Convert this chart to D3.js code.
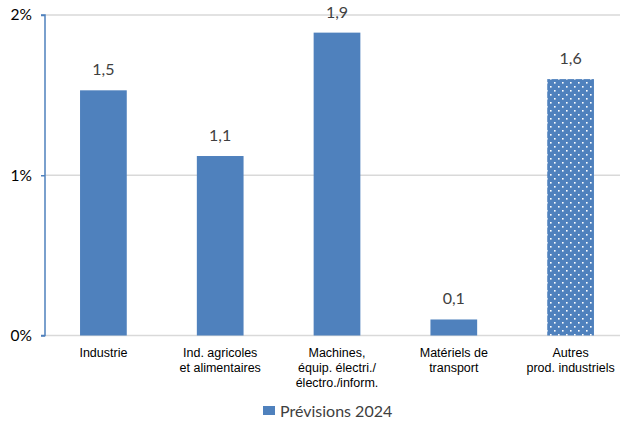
<!DOCTYPE html>
<html><head><meta charset="utf-8">
<script src="https://cdn.jsdelivr.net/npm/d3@7"></script>
<style>body{margin:0;background:#fff}svg{display:block}</style>
</head><body>
<svg id="c" width="620" height="423"></svg>
<script>
const categories = [
  ["Industrie"],
  ["Ind. agricoles", "et alimentaires"],
  ["Machines,", "équip. électri./", "électro./inform."],
  ["Matériels de", "transport"],
  ["Autres", "prod. industriels"]
];
const values = [1.53, 1.12, 1.89, 0.10, 1.60];
const valueLabels = ["1,5", "1,1", "1,9", "0,1", "1,6"];
const patterned = [false, false, false, false, true];
const yTicks = [0, 1, 2];
const yTickLabels = ["0%", "1%", "2%"];
const legendLabel = "Prévisions 2024";

const svg = d3.select("#c");
const blue = "#4f81bd";
const defs = svg.append("defs");
const pat = defs.append("pattern").attr("id","dots").attr("patternUnits","userSpaceOnUse")
  .attr("width",8).attr("height",8);
pat.append("rect").attr("width",8).attr("height",8).attr("fill",blue);
pat.append("rect").attr("x",2).attr("y",2).attr("width",1.6).attr("height",1.6).attr("fill","#fff");
pat.append("rect").attr("x",6).attr("y",6).attr("width",1.6).attr("height",1.6).attr("fill","#fff");

const x = d3.scaleBand().domain(d3.range(values.length)).range([45, 629]).paddingInner(0.6).paddingOuter(0.3);
const y = d3.scaleLinear().domain([0, 2]).range([335.5, 15]);

// gridlines
svg.append("g").selectAll("line").data(yTicks).join("line")
  .attr("x1", 45).attr("x2", 620)
  .attr("y1", d => y(d)).attr("y2", d => y(d))
  .attr("stroke", "#d9d9d9").attr("stroke-width", 1.5);

// bars
svg.append("g").selectAll("rect").data(values).join("rect")
  .attr("x", (d,i) => x(i)).attr("width", x.bandwidth())
  .attr("y", d => y(d)).attr("height", d => y(0) - y(d))
  .attr("fill", (d,i) => patterned[i] ? "url(#dots)" : blue);

// value labels
svg.append("g").selectAll("text").data(values).join("text")
  .attr("x", (d,i) => x(i) + x.bandwidth()/2)
  .attr("y", d => y(d) - 15)
  .attr("text-anchor", "middle")
  .attr("font-family", "Lato, 'Noto Sans', sans-serif").attr("font-size", 16)
  .attr("fill", "#404040")
  .text((d,i) => valueLabels[i]);

// y axis
const yAxis = d3.axisLeft(y).tickValues(yTicks).tickFormat((d,i) => yTickLabels[i]).tickSize(4).tickPadding(9);
const ga = svg.append("g").attr("transform", "translate(45,0)").call(yAxis);
ga.select(".domain").attr("stroke", blue).attr("stroke-width", 1.5).attr("d", `M-4,${y(2)}H0V${y(0)}H-4`);
ga.selectAll(".tick line").attr("stroke", blue).attr("stroke-width", 1.5);
ga.selectAll(".tick text").attr("font-family", "Lato, 'Noto Sans', sans-serif").attr("font-size", 15.5).attr("fill", "#000");

// category labels
const gc = svg.append("g");
categories.forEach((lines, i) => {
  const t = gc.append("text").attr("text-anchor", "middle")
    .attr("font-family", "'Liberation Sans', Arial, sans-serif").attr("font-size", 12.5).attr("fill", "#000");
  lines.forEach((l, j) => {
    t.append("tspan").attr("x", x(i) + x.bandwidth()/2).attr("y", 357 + j*15).text(l);
  });
});

// legend
svg.append("rect").attr("x", 263).attr("y", 406).attr("width", 12).attr("height", 9).attr("fill", blue);
svg.append("text").attr("x", 280).attr("y", 416.5).attr("font-family", "Lato, 'Noto Sans', sans-serif")
  .attr("font-size", 16).attr("fill", "#404040").text(legendLabel);
</script>
</body></html>
